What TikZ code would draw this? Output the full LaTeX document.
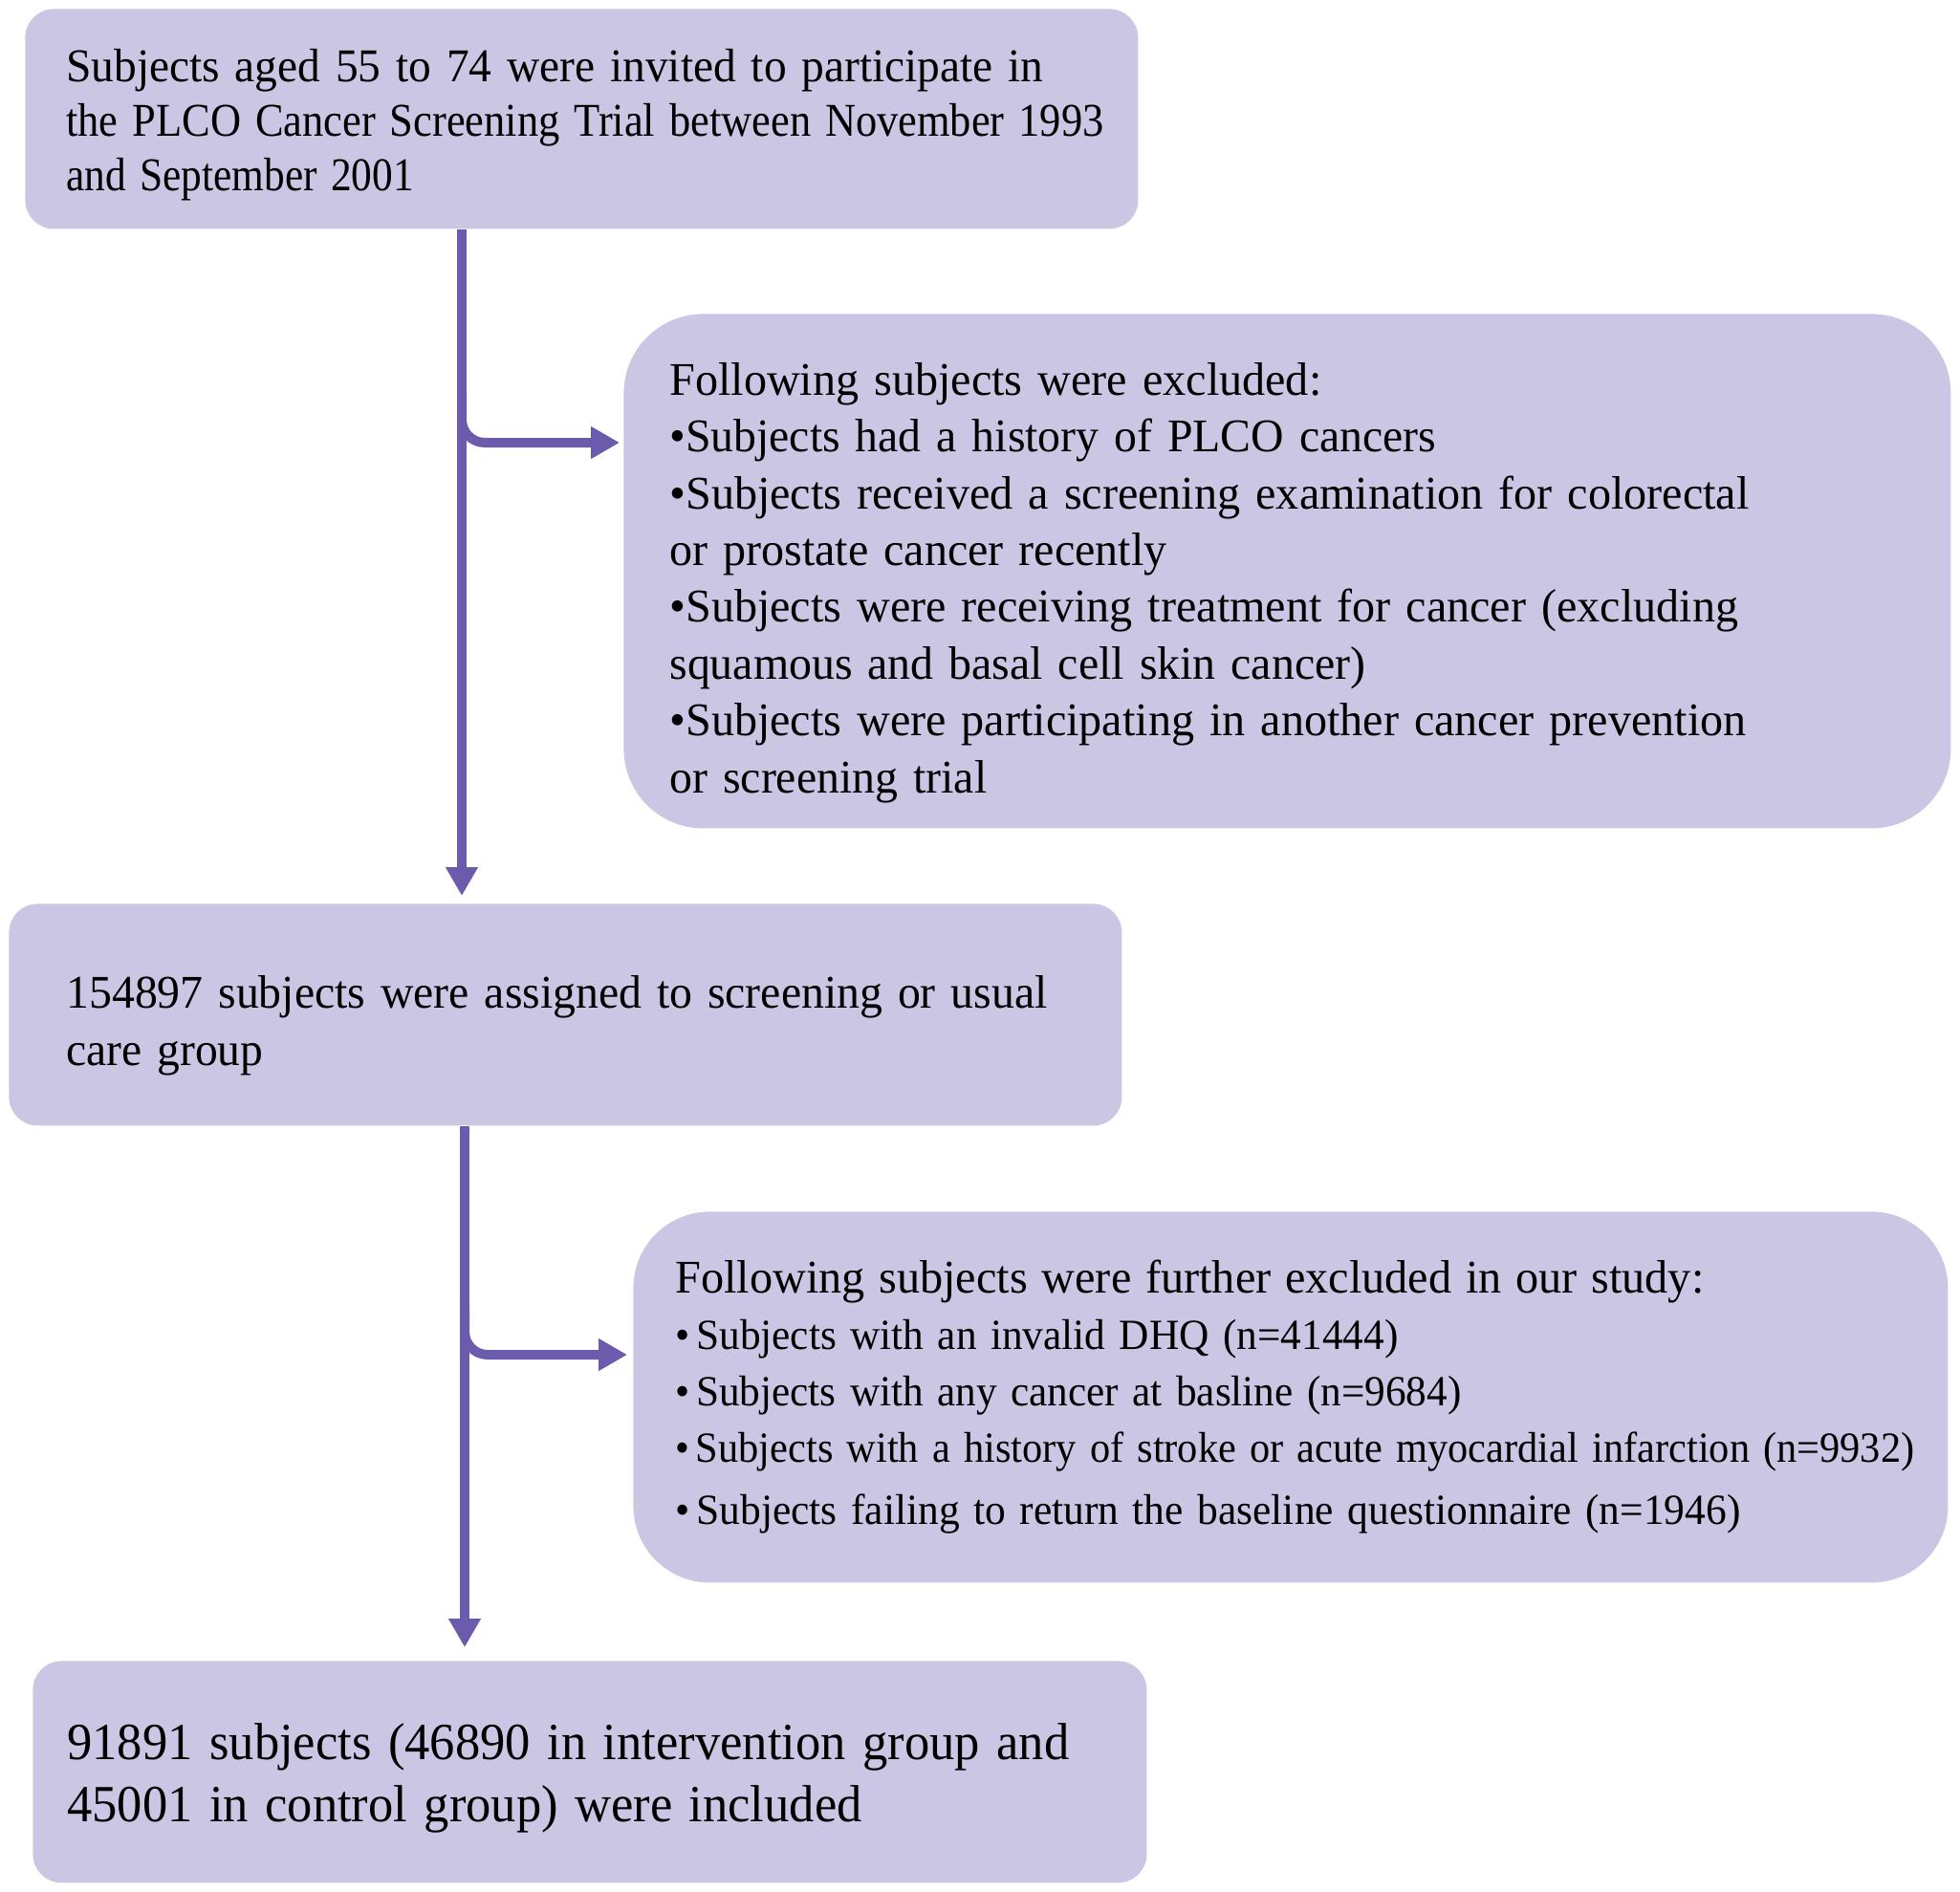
\documentclass[tikz,border=0pt]{standalone}
\usepackage{fontspec}
\usepackage{graphicx}
\setmainfont{Liberation Serif}
\usetikzlibrary{arrows.meta}
\definecolor{boxfill}{RGB}{204,198,229}
\definecolor{arrowc}{RGB}{108,90,172}
\newlength\fitlen
\newcommand\fitline[2]{\settowidth\fitlen{#2}\pgfmathsetmacro\fsc{#1/\fitlen}\scalebox{\fsc}[1]{#2}}
\newcommand\topgap[1]{\rule{0pt}{#1}}
\tikzset{
  box/.style={fill=boxfill, draw=none, anchor=north west, align=left, inner ysep=0pt},
  arr/.style={draw=arrowc, line width=5pt, -{Triangle[width=16pt,length=15pt]}},
}
\begin{document}
\begin{tikzpicture}[x=1pt,y=-1pt]
\useasboundingbox (0,0) rectangle (1025,989.5);
\node[box, rounded corners=15pt, minimum height=115pt, inner xsep=21.5pt, text width=539pt,
      font=\fontsize{24.6}{28.7}\selectfont] (box1) at (13,4.5)
 {\topgap{23.3pt}\fitline{511pt}{Subjects aged 55 to 74 were invited to participate in}\\
  \fitline{542.5pt}{the PLCO Cancer Screening Trial between November 1993}\\
  \fitline{181.7pt}{and September 2001}};
\node[box, rounded corners=41.5pt, minimum height=269pt, inner xsep=24pt, text width=646pt,
      font=\fontsize{24.5}{29.7}\selectfont] (box2) at (326,164)
 {\topgap{29pt}\fitline{341pt}{Following subjects were excluded:}\\
  \fitline{401pt}{•Subjects had a history of PLCO cancers}\\
  \fitline{564.6pt}{•Subjects received a screening examination for colorectal}\\
  \fitline{260pt}{or prostate cancer recently}\\
  \fitline{558.8pt}{•Subjects were receiving treatment for cancer (excluding}\\
  \fitline{364pt}{squamous and basal cell skin cancer)}\\
  \fitline{563pt}{•Subjects were participating in another cancer prevention}\\
  \fitline{166pt}{or screening trial}};
\node[box, rounded corners=15pt, minimum height=116pt, inner xsep=30pt, text width=522pt,
      font=\fontsize{24.5}{30}\selectfont] (box3) at (4.5,472.5)
 {\topgap{28.3pt}\fitline{513pt}{154897 subjects were assigned to screening or usual}\\
  \fitline{103pt}{care group}};
\node[box, rounded corners=40pt, minimum height=194pt, inner xsep=22pt, text width=643.5pt,
      font=\fontsize{22.5}{29.5}\selectfont] (box4) at (331,633.5)
 {\fitline{538pt}{\fontsize{24.5}{29.5}\selectfont Following subjects were further excluded in our study:}\\
  \fitline{378pt}{•\hspace{3.5pt}Subjects with an invalid DHQ (n=41444)}\\
  \fitline{411pt}{•\hspace{3.5pt}Subjects with any cancer at basline (n=9684)}\\
  \fitline{648pt}{•\hspace{3.5pt}Subjects with a history of stroke or acute myocardial infarction (n=9932)}\\[3pt]
  \fitline{557pt}{•\hspace{3.5pt}Subjects failing to return the baseline questionnaire (n=1946)}};
\node[box, rounded corners=15pt, minimum height=116pt, inner xsep=18pt, text width=546.5pt,
      font=\fontsize{27.3}{32.5}\selectfont] (box5) at (17,868.5)
 {\topgap{25.2pt}\fitline{524pt}{91891 subjects (46890 in intervention group and}\\
  \fitline{415.6pt}{45001 in control group) were included}};
\coordinate (v1) at (241.5,0);
\coordinate (v2) at (243,0);
\coordinate (h1) at (0,231.5);
\coordinate (h2) at (0,708.5);
\coordinate (s1) at (241.5,205);
\coordinate (s2) at (243,685);
\draw[arr, shorten >=4pt] (box1.south -| v1) -- (box3.north -| v1);
\draw[arr, rounded corners=12pt, shorten >=2pt] (s1) |- (box2.west |- h1);
\draw[arr, shorten >=7pt] (box3.south -| v2) -- (box5.north -| v2);
\draw[arr, rounded corners=12pt, shorten >=3pt] (s2) |- (box4.west |- h2);
\end{tikzpicture}
\end{document}
